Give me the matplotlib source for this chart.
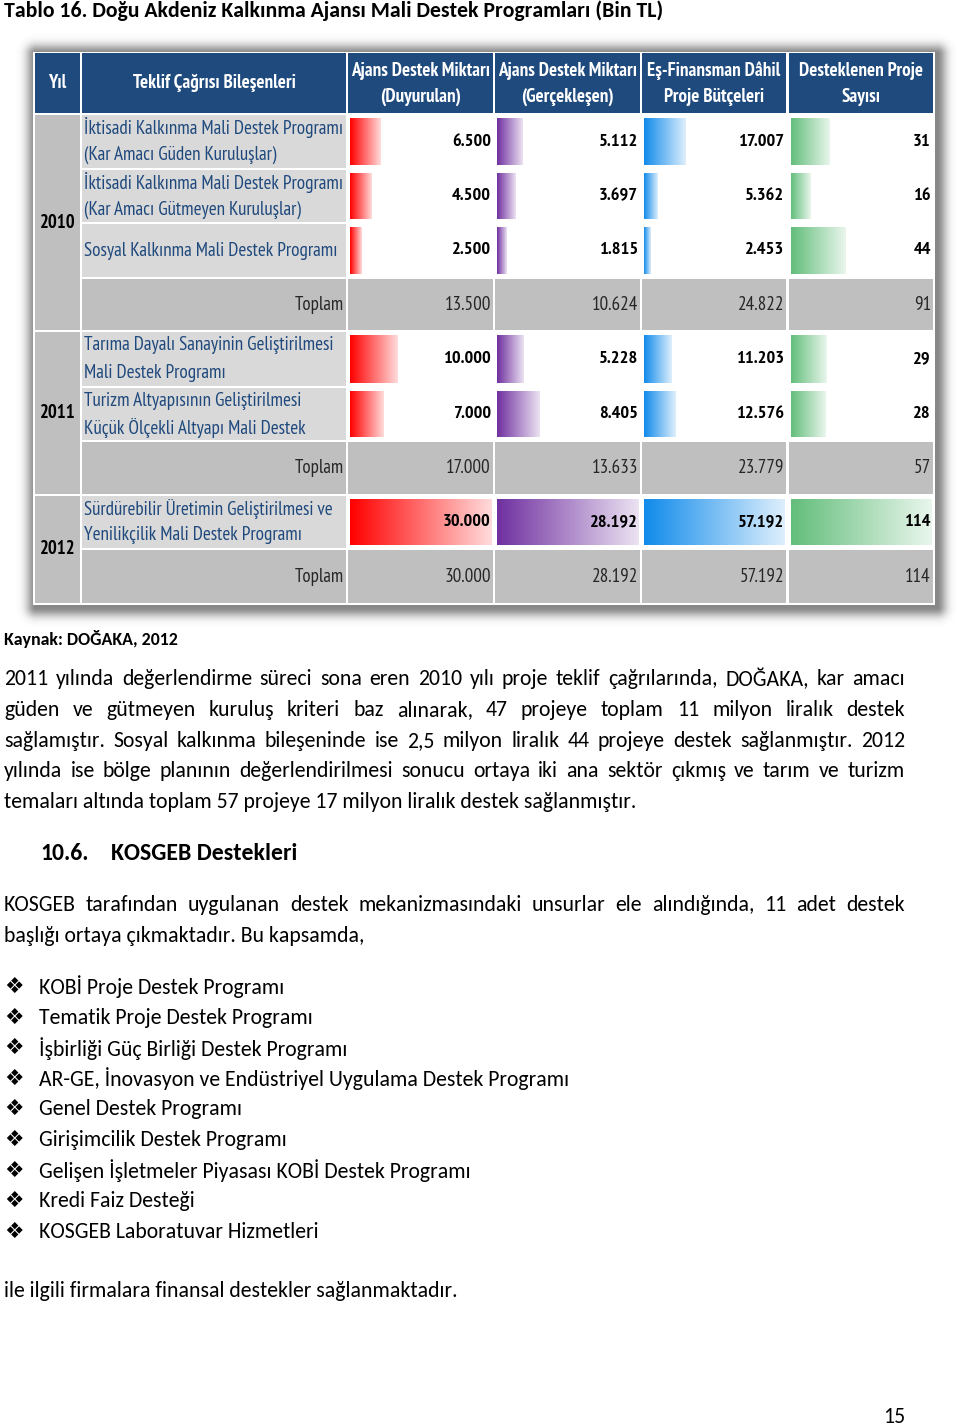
import numpy as np
import matplotlib
matplotlib.use('Agg')
import matplotlib.pyplot as plt
from matplotlib.patches import Rectangle
from matplotlib.colors import to_rgb

# ---------------- data ----------------
title = "Tablo 16. Doğu Akdeniz Kalkınma Ajansı Mali Destek Programları (Bin TL)"
col_headers = [["Yıl"], ["Teklif Çağrısı Bileşenleri"],
               ["Ajans Destek Miktarı", "(Duyurulan)"],
               ["Ajans Destek Miktarı", "(Gerçekleşen)"],
               ["Eş-Finansman Dâhil", "Proje Bütçeleri"],
               ["Desteklenen Proje", "Sayısı"]]
years = ["2010", "2011", "2012"]
row_year = [0, 0, 0, 1, 1, 2]
programs = ["İktisadi Kalkınma Mali Destek Programı\n(Kar Amacı Güden Kuruluşlar)",
            "İktisadi Kalkınma Mali Destek Programı\n(Kar Amacı Gütmeyen Kuruluşlar)",
            "Sosyal Kalkınma Mali Destek Programı",
            "Tarıma Dayalı Sanayinin Geliştirilmesi\nMali Destek Programı",
            "Turizm Altyapısının Geliştirilmesi\nKüçük Ölçekli Altyapı Mali Destek",
            "Sürdürebilir Üretimin Geliştirilmesi ve\nYenilikçilik Mali Destek Programı"]
duyurulan = [6500, 4500, 2500, 10000, 7000, 30000]
gerceklesen = [5112, 3697, 1815, 5228, 8405, 28192]
butce = [17007, 5362, 2453, 11203, 12576, 57192]
proje = [31, 16, 44, 29, 28, 114]
series = [duyurulan, gerceklesen, butce, proje]
total_label = "Toplam"
source = "Kaynak: DOĞAKA, 2012"
para1 = ["2011 yılında değerlendirme süreci sona eren 2010 yılı proje teklif çağrılarında, DOĞAKA, kar amacı",
         "güden ve gütmeyen kuruluş kriteri baz alınarak, 47 projeye toplam 11 milyon liralık destek",
         "sağlamıştır. Sosyal kalkınma bileşeninde ise 2,5 milyon liralık 44 projeye destek sağlanmıştır. 2012",
         "yılında ise bölge planının değerlendirilmesi sonucu ortaya iki ana sektör çıkmış ve tarım ve turizm",
         "temaları altında toplam 57 projeye 17 milyon liralık destek sağlanmıştır."]
heading_num = "10.6."
heading_txt = "KOSGEB Destekleri"
para2 = ["KOSGEB tarafından uygulanan destek mekanizmasındaki unsurlar ele alındığında, 11 adet destek",
         "başlığı ortaya çıkmaktadır. Bu kapsamda,"]
bullets = ["KOBİ Proje Destek Programı", "Tematik Proje Destek Programı",
           "İşbirliği Güç Birliği Destek Programı",
           "AR-GE, İnovasyon ve Endüstriyel Uygulama Destek Programı",
           "Genel Destek Programı", "Girişimcilik Destek Programı",
           "Gelişen İşletmeler Piyasası KOBİ Destek Programı",
           "Kredi Faiz Desteği", "KOSGEB Laboratuvar Hizmetleri"]
bullet_mark = "❖"
closing = "ile ilgili firmalara finansal destekler sağlanmaktadır."
page_no = "15"

# ---------------- style / layout ----------------
BODY = ['Carlito', 'DejaVu Sans']
TBL = ['PT Sans Narrow', 'DejaVu Sans']
HDR_BLUE = '#1F4A7E'
YEAR_GRAY = '#BFBFBF'
LBL_GRAY = '#D9D9D9'
LBL_BLUE = '#1F497D'
BAR_COLORS = ['#FF0000', '#7030A0', '#118BEB', '#63BE7B']
COLS = [(35, 80), (82, 346), (348, 493), (495, 640), (642, 786), (789, 933)]
HDR_Y = (53, 113)
ROWS = [(115, 168), (170, 222), (224, 277), (279, 330), (332, 386),
        (388, 440), (442, 494), (496, 548), (550, 603)]

fig = plt.figure(figsize=(9.6, 14.28), dpi=100)
ax = fig.add_axes([0, 0, 1, 1])
ax.set_xlim(0, 960)
ax.set_ylim(1428, 0)
ax.axis('off')
R = fig.canvas.get_renderer()


def tw(s, **kw):
    t = ax.text(0, 0, s, **kw)
    w = t.get_window_extent(renderer=R).width
    t.remove()
    return w


def fit(s, target, **kw):
    return 20 * target / tw(s, fontsize=20, **kw)


def fmt(v):
    return f"{v:,}".replace(',', '.')


# font sizes fitted to reference widths
s_title = fit(title, 660, family=BODY, weight='bold')
s_body = fit(para1[-1], 634, family=BODY)
s_src = fit(source, 174, family=BODY, weight='bold')
s_head = fit(heading_txt, 186, family=BODY, weight='bold')
s_hdr = fit(col_headers[2][0], 139, family=TBL, weight='bold')
s_lbl = fit(programs[0].split('\n')[0], 259, family=TBL)
s_val = fit(fmt(butce[0]), 42, family=TBL, weight='bold') * 1.1
s_tot = fit(fmt(sum(duyurulan[:3])), 42, family=TBL) * 1.1
s_year = fit(years[0], 31, family=TBL, weight='bold') * 1.15
s_toplam = fit(total_label, 49, family=TBL)

# ---------------- table shadow ----------------
sx0, sx1, sy0, sy1 = 5, 958, 20, 645
xs = np.arange(sx0, sx1) + 0.5
ys = np.arange(sy0, sy1) + 0.5
X, Y = np.meshgrid(xs, ys)
dx = np.maximum(np.maximum(36 - X, X - 937), 0)
dy = np.maximum(np.maximum(54 - Y, Y - 607), 0)
d = np.hypot(dx, dy)
img = np.zeros((len(ys), len(xs), 4))
img[..., :3] = 0.22
img[..., 3] = 0.6 * np.exp(-(d / 9.5) ** 2)
ax.imshow(img, extent=[sx0, sx1, sy1, sy0], interpolation='bilinear', aspect='auto', zorder=0)

ax.add_patch(Rectangle((33, 52), 902, 553, facecolor='white', edgecolor='none', zorder=1))


def cell(x0, x1, y0, y1, color):
    ax.add_patch(Rectangle((x0, y0), x1 - x0, y1 - y0, facecolor=color, edgecolor='none', zorder=2))


def grad_bar(x0, x1, y0, y1, color):
    c = np.array(to_rgb(color))
    light = c + (1 - c) * 0.86
    t = np.linspace(0, 1, 128)[None, :, None]
    arr = c * (1 - t) + light * t
    ax.imshow(arr, extent=[x0, x1, y1, y0], aspect='auto', interpolation='bilinear', zorder=3)


# header
for (x0, x1), lines in zip(COLS, col_headers):
    cell(x0, x1, HDR_Y[0], HDR_Y[1], HDR_BLUE)
    cx = (x0 + x1) / 2
    if len(lines) == 1:
        ax.text(cx, 83, lines[0], ha='center', va='center', color='white',
                family=TBL, weight='bold', fontsize=s_hdr, zorder=5)
    else:
        for k, ln in enumerate(lines):
            ax.text(cx, 71 + 26 * k, ln, ha='center', va='center', color='white',
                    family=TBL, weight='bold', fontsize=s_hdr, zorder=5)

# row sequence built from data
seq = []
for yi in range(len(years)):
    idx = [i for i, y in enumerate(row_year) if y == yi]
    for i in idx:
        seq.append(('data', i))
    seq.append(('total', yi))

colmax = [max(s) for s in series]
year_span = {}
for (kind, i), (y0, y1) in zip(seq, ROWS):
    yi = row_year[i] if kind == 'data' else i
    a, b = year_span.get(yi, (y0, y1))
    year_span[yi] = (min(a, y0), max(b, y1))
    cy = (y0 + y1) / 2
    if kind == 'data':
        cell(COLS[1][0], COLS[1][1], y0, y1, LBL_GRAY)
        lines = programs[i].split('\n')
        offs = [0] if len(lines) == 1 else [-13.5, 13.5]
        for ln, o in zip(lines, offs):
            ax.text(COLS[1][0] + 2, cy + o, ln, ha='left', va='center', color=LBL_BLUE,
                    family=TBL, fontsize=s_lbl, zorder=5)
        for c, s in enumerate(series):
            x0, x1 = COLS[2 + c]
            v = s[i]
            bx0 = x0 + 2
            W = x1 - x0 - 3
            grad_bar(bx0, bx0 + W * v / colmax[c], y0 + 3, y1 - 3, BAR_COLORS[c])
            ax.text(x1 - 2, cy, fmt(v), ha='right', va='center', color='black',
                    family=TBL, weight='bold', fontsize=s_val, zorder=6)
    else:
        for x0, x1 in COLS[1:]:
            cell(x0, x1, y0, y1, YEAR_GRAY)
        ax.text(COLS[1][1] - 2, cy, total_label, ha='right', va='center', color='#262626',
                family=TBL, fontsize=s_toplam, zorder=5)
        idx = [k for k, y in enumerate(row_year) if y == i]
        for c, s in enumerate(series):
            x0, x1 = COLS[2 + c]
            ax.text(x1 - 2, cy, fmt(sum(s[k] for k in idx)), ha='right', va='center',
                    color='#262626', family=TBL, fontsize=s_tot, zorder=5)

for yi, (y0, y1) in year_span.items():
    cell(COLS[0][0], COLS[0][1], y0, y1, YEAR_GRAY)
    ax.text((COLS[0][0] + COLS[0][1]) / 2, (y0 + y1) / 2, years[yi], ha='center', va='center',
            color='black', family=TBL, weight='bold', fontsize=s_year, zorder=5)

# ---------------- page text ----------------
ax.text(4, 11, title, ha='left', va='center', family=BODY, weight='bold', fontsize=s_title, color='black')
ax.text(4, 639, source, ha='left', va='center', family=BODY, weight='bold', fontsize=s_src, color='black')


def justify(line, x0, x1, y, size):
    words = line.split()
    widths = [tw(w, family=BODY, fontsize=size) for w in words]
    gap = (x1 - x0 - sum(widths)) / (len(words) - 1)
    x = x0
    for w, wd in zip(words, widths):
        ax.text(x, y, w, ha='left', va='center', family=BODY, fontsize=size, color='black')
        x += wd + gap


p1_y = [679, 710, 741, 771, 802]
for k, (ln, y) in enumerate(zip(para1, p1_y)):
    if k < len(para1) - 1:
        justify(ln, 4, 905, y, s_body)
    else:
        ax.text(4, y, ln, ha='left', va='center', family=BODY, fontsize=s_body, color='black')

ax.text(40, 853, heading_num, ha='left', va='center', family=BODY, weight='bold', fontsize=s_head, color='black')
ax.text(111, 853, heading_txt, ha='left', va='center', family=BODY, weight='bold', fontsize=s_head, color='black')

justify(para2[0], 4, 905, 905, s_body)
ax.text(4, 936, para2[1], ha='left', va='center', family=BODY, fontsize=s_body, color='black')

for k, b in enumerate(bullets):
    y = 987 + 30.6 * k
    ax.text(4, y, bullet_mark, ha='left', va='center', family=['DejaVu Sans'], fontsize=s_body * 1.0, color='black')
    ax.text(39, y, b, ha='left', va='center', family=BODY, fontsize=s_body, color='black')

ax.text(4, 1291, closing, ha='left', va='center', family=BODY, fontsize=s_body, color='black')
ax.text(905, 1417, page_no, ha='right', va='center', family=BODY, fontsize=s_body, color='black')

ax.set_xlim(0, 960)
ax.set_ylim(1428, 0)
fig.savefig('out.png', dpi=100)
